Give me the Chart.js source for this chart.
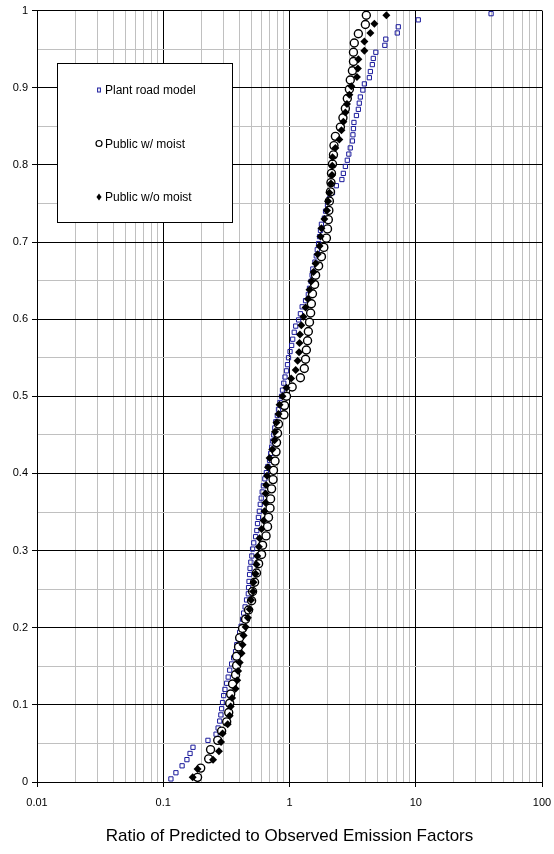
<!DOCTYPE html>
<html lang="en">
<head>
<meta charset="UTF-8">
<title>Ratio of Predicted to Observed Emission Factors</title>
<script src="https://cdn.jsdelivr.net/npm/chart.js"></script>
<style>
  body { margin: 0; background: #fff; }
  canvas { display: block; }
</style>
</head>
<body>
<canvas id="ratioChart" width="554" height="854"></canvas>
<script>
// Series names (legend order)
const seriesNames = ['Plant road model', 'Public w/ moist', 'Public w/o moist'];

// Plant road model: ratio (x) and cumulative fraction (y)
const plantX = [0.115, 0.126, 0.141, 0.154, 0.163, 0.172, 0.226, 0.262, 0.272, 0.280,
  0.286, 0.290, 0.295, 0.301, 0.308, 0.318, 0.327, 0.336, 0.348, 0.361,
  0.374, 0.382, 0.392, 0.403, 0.414, 0.425, 0.433, 0.445, 0.457, 0.472,
  0.474, 0.478, 0.483, 0.487, 0.494, 0.503, 0.510, 0.521, 0.539, 0.551,
  0.558, 0.567, 0.577, 0.587, 0.597, 0.608, 0.621, 0.638, 0.656, 0.674,
  0.695, 0.710, 0.723, 0.737, 0.751, 0.765, 0.779, 0.801, 0.818, 0.841,
  0.865, 0.880, 0.901, 0.921, 0.947, 0.964, 0.982, 1.01, 1.04, 1.06,
  1.09, 1.12, 1.18, 1.22, 1.26, 1.34, 1.41, 1.44, 1.48, 1.51,
  1.53, 1.59, 1.63, 1.66, 1.70, 1.73, 1.76, 1.79, 1.89, 1.93,
  2.00, 2.07, 2.19, 2.35, 2.60, 2.67, 2.77, 2.87, 2.95, 3.03,
  3.15, 3.18, 3.21, 3.24, 3.39, 3.51, 3.57, 3.64, 3.81, 3.92,
  4.29, 4.37, 4.53, 4.61, 4.83, 5.69, 5.79, 7.14, 7.27, 10.47, 39.5];
const plantY = [0.004, 0.012, 0.021, 0.029, 0.037, 0.045, 0.054, 0.062, 0.070, 0.079,
  0.087, 0.095, 0.103, 0.112, 0.120, 0.128, 0.136, 0.145, 0.153, 0.161,
  0.169, 0.178, 0.186, 0.194, 0.202, 0.211, 0.219, 0.227, 0.236, 0.244,
  0.252, 0.260, 0.269, 0.277, 0.285, 0.293, 0.302, 0.310, 0.318, 0.326,
  0.335, 0.343, 0.351, 0.360, 0.368, 0.376, 0.384, 0.393, 0.401, 0.409,
  0.417, 0.426, 0.434, 0.442, 0.450, 0.459, 0.467, 0.475, 0.483, 0.492,
  0.500, 0.508, 0.517, 0.525, 0.533, 0.541, 0.550, 0.558, 0.566, 0.574,
  0.583, 0.591, 0.599, 0.607, 0.616, 0.624, 0.632, 0.640, 0.649, 0.657,
  0.665, 0.674, 0.682, 0.690, 0.698, 0.707, 0.715, 0.723, 0.731, 0.740,
  0.748, 0.756, 0.764, 0.773, 0.781, 0.789, 0.798, 0.806, 0.814, 0.822,
  0.831, 0.839, 0.847, 0.855, 0.864, 0.872, 0.880, 0.888, 0.897, 0.905,
  0.913, 0.921, 0.930, 0.938, 0.946, 0.955, 0.963, 0.971, 0.979, 0.988, 0.996];

// Public w/ moist
const moistX = [0.187, 0.198, 0.229, 0.237, 0.270, 0.290, 0.318, 0.330, 0.336, 0.342,
  0.354, 0.374, 0.381, 0.381, 0.395, 0.403, 0.425, 0.449, 0.474, 0.501,
  0.510, 0.529, 0.548, 0.569, 0.601, 0.612, 0.652, 0.670, 0.682, 0.701,
  0.708, 0.721, 0.741, 0.747, 0.768, 0.782, 0.789, 0.804, 0.818, 0.905,
  0.913, 0.947, 1.05, 1.22, 1.31, 1.34, 1.36, 1.39, 1.41, 1.44,
  1.47, 1.49, 1.52, 1.58, 1.61, 1.70, 1.79, 1.87, 1.96, 2.00,
  2.03, 2.05, 2.07, 2.11, 2.13, 2.15, 2.19, 2.23, 2.25, 2.31,
  2.53, 2.65, 2.77, 2.87, 2.98, 3.03, 3.15, 3.21, 3.21, 3.26,
  3.51, 3.99, 4.06];
const moistY = [0.006, 0.018, 0.030, 0.042, 0.054, 0.066, 0.078, 0.090, 0.102, 0.114,
  0.127, 0.139, 0.151, 0.163, 0.175, 0.187, 0.199, 0.211, 0.223, 0.235,
  0.247, 0.259, 0.271, 0.283, 0.295, 0.307, 0.319, 0.331, 0.343, 0.355,
  0.367, 0.380, 0.392, 0.404, 0.416, 0.428, 0.440, 0.452, 0.464, 0.476,
  0.488, 0.500, 0.512, 0.524, 0.536, 0.548, 0.560, 0.572, 0.584, 0.596,
  0.608, 0.620, 0.633, 0.645, 0.657, 0.669, 0.681, 0.693, 0.705, 0.717,
  0.729, 0.741, 0.753, 0.765, 0.777, 0.789, 0.801, 0.813, 0.825, 0.837,
  0.849, 0.861, 0.873, 0.886, 0.898, 0.910, 0.922, 0.934, 0.946, 0.958,
  0.970, 0.982, 0.994];

// Public w/o moist
const noMoistX = [0.171, 0.187, 0.248, 0.276, 0.287, 0.295, 0.324, 0.336, 0.342, 0.351,
  0.374, 0.385, 0.392, 0.403, 0.417, 0.425, 0.433, 0.449, 0.468, 0.483,
  0.496, 0.515, 0.519, 0.539, 0.548, 0.556, 0.572, 0.579, 0.601, 0.623,
  0.634, 0.646, 0.646, 0.652, 0.664, 0.676, 0.695, 0.730, 0.761, 0.768,
  0.789, 0.818, 0.834, 0.880, 0.947, 1.03, 1.12, 1.16, 1.19, 1.20,
  1.21, 1.24, 1.29, 1.34, 1.40, 1.44, 1.49, 1.55, 1.61, 1.67,
  1.73, 1.76, 1.79, 1.89, 1.98, 2.02, 2.07, 2.13, 2.17, 2.18,
  2.19, 2.31, 2.48, 2.58, 2.67, 2.77, 2.85, 2.98, 3.09, 3.42,
  3.48, 3.51, 3.92, 3.92, 4.37, 4.70, 5.85];
const noMoistY = [0.006, 0.017, 0.029, 0.040, 0.052, 0.063, 0.075, 0.086, 0.098, 0.109,
  0.121, 0.132, 0.144, 0.155, 0.167, 0.178, 0.190, 0.201, 0.213, 0.224,
  0.236, 0.247, 0.259, 0.270, 0.282, 0.293, 0.305, 0.316, 0.328, 0.339,
  0.351, 0.362, 0.374, 0.385, 0.397, 0.408, 0.420, 0.431, 0.443, 0.454,
  0.466, 0.477, 0.489, 0.500, 0.511, 0.523, 0.534, 0.546, 0.557, 0.569,
  0.580, 0.592, 0.603, 0.615, 0.626, 0.638, 0.649, 0.661, 0.672, 0.684,
  0.695, 0.707, 0.718, 0.730, 0.741, 0.753, 0.764, 0.776, 0.787, 0.799,
  0.810, 0.822, 0.833, 0.845, 0.856, 0.868, 0.879, 0.891, 0.902, 0.914,
  0.925, 0.937, 0.948, 0.960, 0.971, 0.983, 0.994];

// Axis labels
const xDecades = [0.01, 0.1, 1, 10, 100];
const xTickLabels = ['0.01', '0.1', '1', '10', '100'];
const xTitle = 'Ratio of Predicted to Observed Emission Factors';

const FONT = '"Liberation Sans", Arial, sans-serif';

function toPoints(xs, ys) {
  return xs.map((x, i) => ({ x: x, y: ys[i] }));
}

function isDecade(v) {
  const l = Math.log10(v);
  return Math.abs(l - Math.round(l)) < 1e-6;
}

// log grid: 1..9 in each decade
const xGridValues = [];
for (let e = -2; e <= 1; e++) {
  for (let m = 1; m <= 9; m++) {
    xGridValues.push(Number((m * Math.pow(10, e)).toPrecision(3)));
  }
}
xGridValues.push(100);

function drawMarker(ctx, style, x, y, r) {
  ctx.beginPath();
  if (style === 'rect') {
    ctx.strokeStyle = '#1a1a9c';
    ctx.lineWidth = 1;
    ctx.strokeRect(x - r * 0.7, y - r, r * 1.4, r * 2);
  } else if (style === 'circle') {
    ctx.strokeStyle = '#000';
    ctx.lineWidth = 1.2;
    ctx.arc(x, y, r, 0, Math.PI * 2);
    ctx.stroke();
  } else {
    ctx.fillStyle = '#000';
    ctx.moveTo(x, y - r * 1.2);
    ctx.lineTo(x + r * 0.85, y);
    ctx.lineTo(x, y + r * 1.2);
    ctx.lineTo(x - r * 0.85, y);
    ctx.closePath();
    ctx.fill();
  }
}

// Legend box drawn inside the plot, like the original
const boxLegend = {
  id: 'boxLegend',
  afterDraw(chart) {
    const ctx = chart.ctx;
    ctx.save();
    ctx.fillStyle = '#fff';
    ctx.fillRect(57, 63, 175, 159);
    ctx.strokeStyle = '#000';
    ctx.lineWidth = 1;
    ctx.strokeRect(57.5, 63.5, 175, 159);
    const rows = [91, 144.5, 198];
    const styles = ['rect', 'circle', 'diamond'];
    const sizes = [2, 3, 3];
    ctx.font = '12px ' + FONT;
    ctx.textBaseline = 'middle';
    rows.forEach((y, i) => {
      drawMarker(ctx, styles[i], 99, y - 1, sizes[i]);
      ctx.fillStyle = '#000';
      ctx.fillText(seriesNames[i], 105, y);
    });
    ctx.restore();
  }
};

const ctx = document.getElementById('ratioChart').getContext('2d');
const ratioChart = new Chart(ctx, {
  type: 'scatter',
  data: {
    datasets: [{
      label: seriesNames[0],
      data: toPoints(plantX, plantY),
      pointStyle: 'rect',
      pointRadius: 3,
      borderWidth: 1,
      borderColor: '#1a1a9c',
      backgroundColor: 'rgba(255,255,255,0)',
      order: 2
    }, {
      label: seriesNames[1],
      data: toPoints(moistX, moistY),
      pointStyle: 'circle',
      pointRadius: 4,
      borderWidth: 1.4,
      borderColor: '#000',
      backgroundColor: '#fff',
      order: 1
    }, {
      label: seriesNames[2],
      data: toPoints(noMoistX, noMoistY),
      pointStyle: 'rectRot',
      pointRadius: 4,
      borderWidth: 0,
      borderColor: '#000',
      backgroundColor: '#000',
      order: 0
    }]
  },
  options: {
    responsive: false,
    animation: false,
    devicePixelRatio: 1,
    layout: { padding: { left: 0, right: 12, top: 9, bottom: 0 } },
    plugins: {
      legend: { display: false },
      tooltip: { enabled: false }
    },
    scales: {
      x: {
        type: 'logarithmic',
        min: 0.01,
        max: 100,
        afterBuildTicks: scale => {
          scale.ticks = xGridValues.map(v => ({ value: v }));
        },
        afterFit: scale => {
          scale.height = 72;
          // let the layout padding alone decide the plot edges
          scale.paddingLeft = 0;
          scale.paddingRight = 0;
        },
        ticks: {
          autoSkip: false,
          maxRotation: 0,
          minRotation: 0,
          padding: 9,
          color: '#000',
          font: { family: FONT, size: 11 },
          callback: v => {
            const i = xDecades.findIndex(d => Math.abs(d - v) < d * 1e-6);
            return i >= 0 ? xTickLabels[i] : '';
          }
        },
        grid: {
          color: c => isDecade(c.tick.value) ? '#000' : '#c0c0c0',
          tickColor: c => isDecade(c.tick.value) ? '#000' : 'rgba(0,0,0,0)',
          tickLength: 5,
          lineWidth: 1
        },
        border: { color: '#000', width: 1 },
        title: {
          display: true,
          text: xTitle,
          color: '#000',
          font: { family: FONT, size: 17 },
          padding: { top: 0, bottom: 7 }
        }
      },
      y: {
        min: 0,
        max: 1,
        afterFit: scale => { scale.width = 37; },
        ticks: {
          stepSize: 0.05,
          autoSkip: false,
          padding: 4,
          color: '#000',
          font: { family: FONT, size: 11 },
          callback: v => {
            const t = Math.round(v * 100);
            return t % 10 === 0 ? String(t / 100) : '';
          }
        },
        grid: {
          color: c => Math.round(c.tick.value * 100) % 10 === 0 ? '#000' : '#c0c0c0',
          tickColor: c => Math.round(c.tick.value * 100) % 10 === 0 ? '#000' : 'rgba(0,0,0,0)',
          tickLength: 5,
          lineWidth: 1
        },
        border: { color: '#000', width: 1 }
      }
    }
  },
  plugins: [boxLegend]
});
</script>
</body>
</html>
